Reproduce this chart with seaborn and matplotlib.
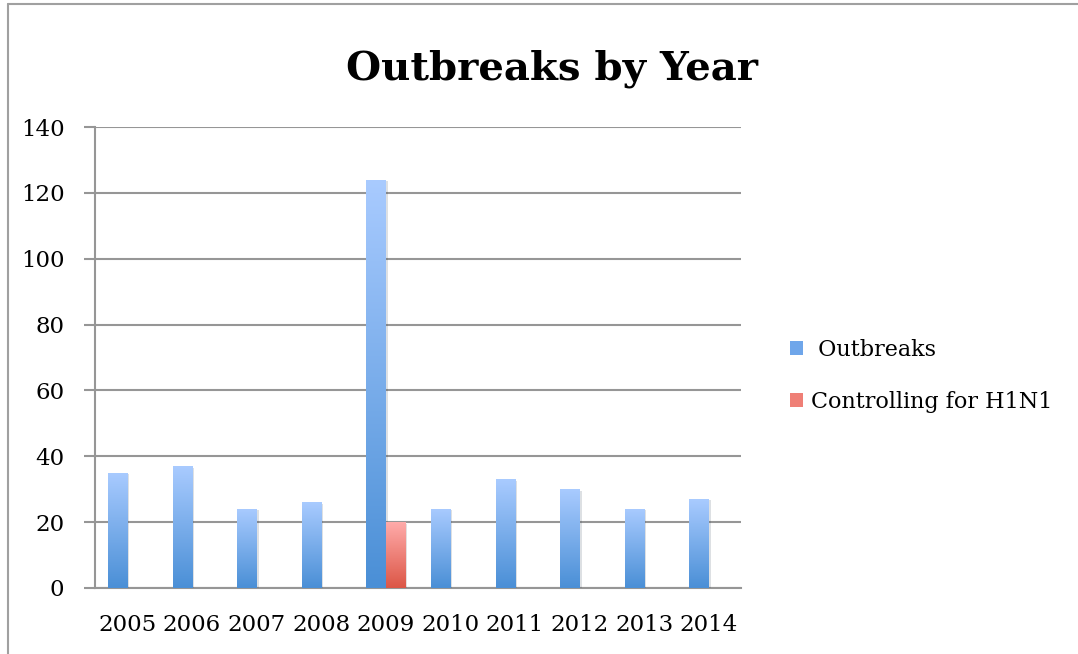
import numpy as np
import pandas as pd
import matplotlib
matplotlib.use("Agg")
import matplotlib.pyplot as plt
import seaborn as sns
from matplotlib.colors import LinearSegmentedColormap
from matplotlib.lines import Line2D
from matplotlib.patches import Patch
import matplotlib.patheffects as pe

years = ["2005", "2006", "2007", "2008", "2009", "2010", "2011", "2012", "2013", "2014"]
outbreaks = [35, 37, 24, 26, 124, 24, 33, 30, 24, 27]
h1n1_years = ["2009"]
h1n1_values = [20]
series = [" Outbreaks", "Controlling for H1N1"]

df = pd.concat([
    pd.DataFrame({"Year": years, "Count": outbreaks, "Series": series[0]}),
    pd.DataFrame({"Year": h1n1_years, "Count": h1n1_values, "Series": series[1]}),
], ignore_index=True)

sns.set_style("white")
plt.rcParams["font.family"] = ["DejaVu Serif"]
plt.rcParams["text.color"] = "black"
plt.rcParams["xtick.color"] = "black"
plt.rcParams["ytick.color"] = "black"

blue_cm = LinearSegmentedColormap.from_list("b", ["#4a8fd6", "#a9cbff"])
red_cm = LinearSegmentedColormap.from_list("r", ["#dc5646", "#ffabaa"])
base = {series[0]: "#6fa6ea", series[1]: "#ef7f76"}
grey = "#969696"

fig = plt.figure(figsize=(10.78, 6.54), dpi=100)
ax = fig.add_axes([95 / 1078, 1 - 588 / 654, 646 / 1078, 461 / 654])

sns.barplot(data=df, x="Year", y="Count", hue="Series", order=years,
            hue_order=series, palette=base, width=0.6, saturation=1,
            legend=False, ax=ax, zorder=3)

# gradient fill on each bar
grad = np.linspace(0, 1, 256).reshape(-1, 1)
for p in list(ax.patches):
    h = p.get_height()
    if not h or np.isnan(h):
        continue
    x, w = p.get_x(), p.get_width()
    fc = p.get_facecolor()
    cm = red_cm if fc[0] > fc[2] else blue_cm
    p.set_path_effects([pe.SimplePatchShadow(offset=(1.5, -1), alpha=0.15), pe.Normal()])
    p.set_edgecolor("none")
    im = ax.imshow(grad, extent=[x, x + w, 0, h], origin="lower", aspect="auto",
                   cmap=cm, zorder=4, interpolation="bilinear")
    im.set_clip_path(p)

ax.set_xlim(-0.5, 9.5)
ax.set_ylim(0, 140)
ax.set_yticks(range(0, 141, 20))
ax.set_xticks(range(len(years)))
ax.set_xticklabels(years)
ax.set_xticks(np.arange(-0.5, 10, 1), minor=True)
ax.set_xlabel("")
ax.set_ylabel("")
ax.yaxis.grid(True, color=grey, lw=1.5, zorder=0)
ax.set_axisbelow(True)

for s in ["top", "right"]:
    ax.spines[s].set_visible(False)
for s in ["left", "bottom"]:
    ax.spines[s].set_color(grey)
    ax.spines[s].set_linewidth(1.5)

ax.tick_params(axis="x", which="major", length=0, pad=19, labelsize=16.5)
ax.tick_params(axis="x", which="minor", length=8, width=1.5, color=grey)
ax.tick_params(axis="y", length=8, width=1.5, color=grey, labelcolor="black",
               pad=14, labelsize=16.5, left=True)

fig.text(552 / 1078, 1 - 79 / 654, "Outbreaks by Year", ha="center", va="baseline",
         fontsize=29, fontweight="bold")

handles = [Patch(facecolor=base[s], edgecolor="none") for s in series]
fig.legend(handles, series, loc="center left", bbox_to_anchor=(770 / 1078, 1 - 376 / 654),
           frameon=False, fontsize=16, handlelength=0.6, handleheight=0.6,
           handletextpad=0.35, labelspacing=1.35)

# chart border
fig.add_artist(Line2D([8 / 1078, 8 / 1078], [0, 1 - 4 / 654], transform=fig.transFigure,
                      color="#a0a0a0", lw=1.5))
fig.add_artist(Line2D([8 / 1078, 1], [1 - 4 / 654, 1 - 4 / 654], transform=fig.transFigure,
                      color="#a0a0a0", lw=1.5))

fig.savefig("out.png", dpi=100)
